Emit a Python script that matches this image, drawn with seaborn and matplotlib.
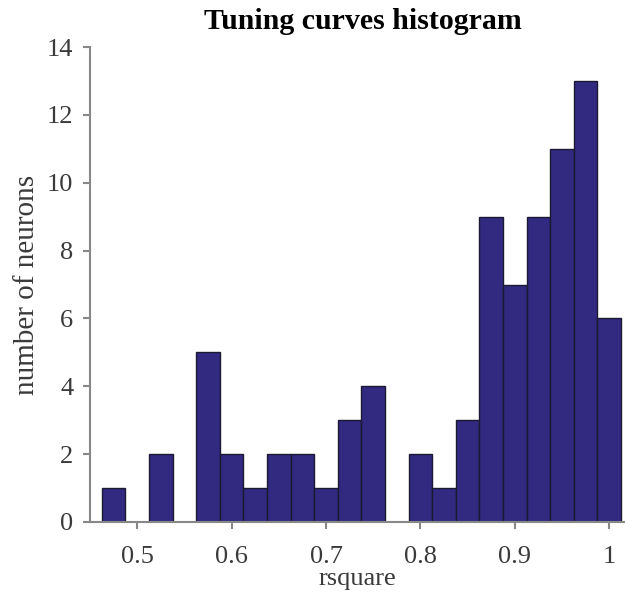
import numpy as np
import pandas as pd
import matplotlib
matplotlib.use("Agg")
import matplotlib.pyplot as plt
import seaborn as sns

# Data
bin_centers = [0.475, 0.500, 0.525, 0.550, 0.575, 0.600, 0.625, 0.650, 0.675, 0.700, 0.725,
               0.750, 0.775, 0.800, 0.825, 0.850, 0.875, 0.900, 0.925, 0.950, 0.975, 1.000]
counts = [1, 0, 2, 0, 5, 2, 1, 2, 2, 1, 3, 4, 0, 2, 1, 3, 9, 7, 9, 11, 13, 6]
bin_width = 0.025
x_ticks = [0.5, 0.6, 0.7, 0.8, 0.9, 1.0]
x_tick_labels = ["0.5", "0.6", "0.7", "0.8", "0.9", "1"]
y_ticks = [0, 2, 4, 6, 8, 10, 12, 14]

sns.set_style("white")
plt.rcParams['font.family'] = ['Liberation Serif', 'DejaVu Serif']

df = pd.DataFrame({"rsquare": bin_centers, "count": counts})
lo = bin_centers[0] - bin_width / 2
hi = bin_centers[-1] + bin_width / 2

fig = plt.figure(figsize=(6.25, 6.06), dpi=100)
ax = fig.add_axes([90 / 625, 84 / 606, 535 / 625, 475 / 606])

sns.histplot(data=df, x="rsquare", weights="count", bins=len(bin_centers),
             binrange=(lo, hi), ax=ax,
             color="#312a80", alpha=1.0, edgecolor="#1c1a33", linewidth=1.0)

ax.set_xlim(0.45, 1.0167)
ax.set_ylim(0, 14)
ax.set_xticks(x_ticks)
ax.set_xticklabels(x_tick_labels)
ax.set_yticks(y_ticks)

for s in ["top", "right"]:
    ax.spines[s].set_visible(False)
for s in ["left", "bottom"]:
    ax.spines[s].set_color("#888888")
    ax.spines[s].set_linewidth(1.5)

ax.tick_params(axis="both", which="major", bottom=True, left=True,
               direction="out", length=5, width=1.5, color="#888888",
               labelsize=19, labelcolor="#3a3a3a")
ax.tick_params(axis="x", pad=12)
ax.tick_params(axis="y", pad=7)

ax.set_xlabel("rsquare", fontsize=19, color="#3a3a3a", labelpad=0)
ax.set_ylabel("number of neurons", fontsize=21, color="#3a3a3a", labelpad=5)
ax.set_title("Tuning curves histogram", fontsize=21.5, fontweight="bold",
             color="black", pad=13, x=0.51)

fig.savefig("out.png", dpi=100)
